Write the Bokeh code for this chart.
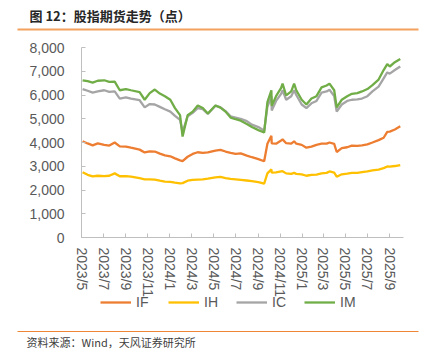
import pandas as pd
from bokeh.plotting import figure
from bokeh.models import (ColumnDataSource, FixedTicker, NumeralTickFormatter, CustomJSTickFormatter,
                          Legend, LegendItem, Range1d, Label, BoxAnnotation)
from bokeh.embed import file_html
from bokeh.resources import INLINE

dates = [
    "2023-05-04", "2023-05-18", "2023-06-01", "2023-06-15", "2023-07-03", "2023-07-17",
    "2023-08-01", "2023-08-15", "2023-09-01", "2023-09-15", "2023-10-09", "2023-10-23",
    "2023-11-06", "2023-11-20", "2023-12-04", "2023-12-18",
    "2024-01-02", "2024-01-15", "2024-01-29", "2024-02-05", "2024-02-19", "2024-03-04",
    "2024-03-18", "2024-04-01", "2024-04-15", "2024-05-06", "2024-05-20", "2024-06-03",
    "2024-06-17", "2024-07-01", "2024-07-15", "2024-08-01", "2024-08-15", "2024-09-02",
    "2024-09-18", "2024-09-27", "2024-10-08", "2024-10-09", "2024-10-21", "2024-11-04",
    "2024-11-08", "2024-11-18", "2024-12-02", "2024-12-10", "2024-12-16", "2024-12-31",
    "2025-01-13", "2025-01-27", "2025-02-10", "2025-02-24", "2025-03-10", "2025-03-18",
    "2025-03-31", "2025-04-07", "2025-04-21", "2025-05-06", "2025-05-19", "2025-06-03",
    "2025-06-16", "2025-07-01", "2025-07-15", "2025-08-01", "2025-08-15", "2025-08-25",
    "2025-09-01", "2025-09-15", "2025-09-30",
]

IF = [4050, 3960, 3880, 3960, 3900, 3870, 4000, 3840, 3830, 3780, 3700, 3580, 3630, 3620, 3530, 3460,
      3420, 3330, 3250, 3220, 3400, 3520, 3590, 3560, 3580, 3660, 3690, 3620, 3560, 3520, 3540, 3450,
      3380, 3300, 3210, 3950, 4280, 3960, 3950, 4080, 4130, 3970, 3950, 4050, 3950, 3900,
      3780, 3830, 3900, 3950, 3950, 4000, 3940, 3600, 3760, 3800, 3870, 3860, 3880, 3920, 4000, 4100,
      4200, 4450, 4460, 4550, 4680]

IH = [2750, 2640, 2570, 2600, 2580, 2600, 2700, 2580, 2580, 2560, 2500, 2450, 2450, 2440, 2390, 2350,
      2340, 2310, 2280, 2290, 2390, 2430, 2440, 2450, 2480, 2530, 2550, 2500, 2470, 2450, 2430, 2400,
      2370, 2330, 2270, 2700, 2870, 2730, 2740, 2780, 2790, 2700, 2680, 2720, 2680, 2660,
      2600, 2640, 2650, 2700, 2720, 2780, 2730, 2560, 2660, 2690, 2720, 2720, 2750, 2780, 2830, 2860,
      2920, 2990, 2980, 3010, 3050]

IC = [6250, 6180, 6100, 6150, 6200, 6130, 6150, 5850, 5900, 5850, 5780, 5480, 5620, 5600, 5500, 5400,
      5300, 5120, 4950, 4450, 5100, 5250, 5450, 5400, 5200, 5550, 5480, 5320, 5100, 5050, 5000, 4900,
      4750, 4650, 4500, 5500, 5950, 5350, 5750, 6050, 6200, 5800, 5950, 6200, 6000, 5600,
      5450, 5650, 5750, 6100, 6150, 6220, 5950, 5300, 5600, 5750, 5800, 5820, 5850, 5950, 6150, 6350,
      6700, 6950, 6900, 7050, 7200]

IM = [6620, 6580, 6520, 6600, 6620, 6550, 6560, 6200, 6250, 6200, 6120, 5800, 6080, 6230, 6060, 5950,
      5800, 5450, 5150, 4250, 5150, 5300, 5560, 5450, 5220, 5560, 5470, 5300, 5050, 4980, 4920, 4780,
      4650, 4520, 4420, 5700, 6200, 5550, 5950, 6300, 6480, 5980, 6150, 6480, 6200, 5800,
      5600, 5850, 5950, 6320, 6400, 6480, 6200, 5480, 5800, 5950, 6050, 6080, 6150, 6250, 6420, 6650,
      7050, 7300, 7200, 7380, 7520]

series_names = ["IF", "IH", "IC", "IM"]
series_colors = ["#ED7D31", "#FFC000", "#A5A5A5", "#70AD47"]

tick_months = ["2023-05-01", "2023-07-01", "2023-09-01", "2023-11-01", "2024-01-01", "2024-03-01",
               "2024-05-01", "2024-07-01", "2024-09-01", "2024-11-01", "2025-01-01", "2025-03-01",
               "2025-05-01", "2025-07-01", "2025-09-01"]
y_ticks = [0, 1000, 2000, 3000, 4000, 5000, 6000, 7000, 8000]
axis_start, axis_end = "2023-05-01", "2025-10-09"
y_min, y_max = 0, 8000

title_text = "图 12：股指期货走势（点）"
source_text = "资料来源：Wind，天风证券研究所"

# ---- layout geometry (figure pixels, origin at figure top-left) ----
W, H = 421, 349
AX_L, AX_R = 81, 403     # plot area left / right
AX_T, AX_B = 47, 237     # plot area top / bottom

def ms(s):
    return pd.Timestamp(s).timestamp() * 1000

x0, x1 = ms(axis_start), ms(axis_end)
kx = (x1 - x0) / (AX_R - AX_L)
ky = (y_max - y_min) / (AX_B - AX_T)
xr = Range1d(x0 - AX_L * kx, x1 + (W - AX_R) * kx)
yr = Range1d(y_min - (H - AX_B) * ky, y_max + AX_T * ky)

src = ColumnDataSource(dict(date=pd.to_datetime(dates), IF=IF, IH=IH, IC=IC, IM=IM))

p = figure(width=W, height=H, x_axis_type="datetime", output_backend="svg", toolbar_location=None,
           x_range=xr, y_range=yr, min_border=0)
p.title.visible = False
p.outline_line_color = None
p.xgrid.visible = False
p.ygrid.visible = False
p.background_fill_color = "white"
p.border_fill_color = "white"

renderers = []
for name, col in zip(series_names, series_colors):
    r = p.line("date", name, source=src, line_color=col, line_width=2.3)
    renderers.append(r)

p.xaxis.fixed_location = y_min
p.yaxis.fixed_location = x0
p.xaxis.bounds = (x0, x1)
p.yaxis.bounds = (y_min, y_max)
p.xaxis.ticker = FixedTicker(ticks=[ms(t) for t in tick_months])
p.xaxis.formatter = CustomJSTickFormatter(code="""
const d = new Date(tick);
return d.getUTCFullYear() + "/" + (d.getUTCMonth() + 1);
""")
p.xaxis.major_label_orientation = "vertical"
p.yaxis.ticker = FixedTicker(ticks=y_ticks)
p.yaxis.formatter = NumeralTickFormatter(format="0,0")

for ax in (p.xaxis, p.yaxis):
    ax.axis_line_color = "#BFBFBF"
    ax.axis_line_width = 1
    ax.major_tick_line_color = "#BFBFBF"
    ax.major_tick_in = 4
    ax.major_tick_out = 0
    ax.minor_tick_line_color = None
    ax.major_label_text_font = "Liberation Sans"
    ax.major_label_text_font_size = "14px"
    ax.major_label_text_color = "#595959"
p.yaxis.major_label_standoff = 17
p.xaxis.major_label_standoff = 10

def sx(px):
    return px

def sy(py):
    return H - py

legend = Legend(items=[LegendItem(label=n, renderers=[r]) for n, r in zip(series_names, renderers)],
                orientation="horizontal", location=(sx(100), sy(310)), glyph_width=31, glyph_height=14,
                label_standoff=5, spacing=12, padding=0, margin=0, border_line_color=None,
                background_fill_alpha=0, label_text_font="Liberation Sans",
                label_text_font_size="14px", label_text_color="#595959")
p.add_layout(legend)

p.add_layout(Label(x=sx(29), y=sy(15), x_units="screen", y_units="screen", text=title_text,
                   text_font="Noto Sans CJK SC", text_font_size="13px", text_font_style="bold",
                   text_color="#262626", text_baseline="middle"))
p.add_layout(Label(x=sx(26), y=sy(341.5), x_units="screen", y_units="screen", text=source_text,
                   text_font="Noto Sans CJK SC", text_font_size="11px",
                   text_color="#404040", text_baseline="middle"))
p.add_layout(BoxAnnotation(left=sx(17), right=sx(418), top=sy(28), bottom=sy(30), left_units="screen",
                           right_units="screen", bottom_units="screen", top_units="screen",
                           fill_color="#F4A15D", fill_alpha=1, line_color=None))
p.add_layout(BoxAnnotation(left=sx(17), right=sx(418), top=sy(330.5), bottom=sy(331.5), left_units="screen",
                           right_units="screen", bottom_units="screen", top_units="screen",
                           fill_color="#EE8636", fill_alpha=1, line_color=None))

open("out.html", "w").write(file_html(p, INLINE))
